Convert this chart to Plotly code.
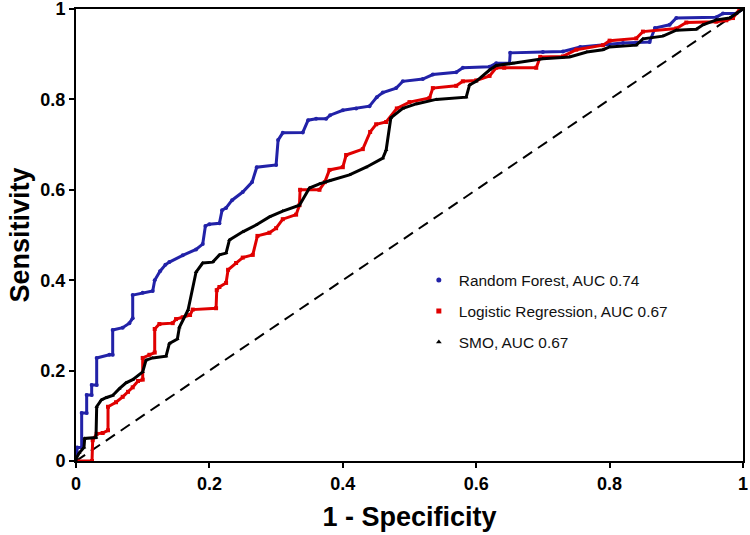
import plotly.graph_objects as go

# Random Forest ROC (1 - specificity, sensitivity)
rf_fpr = [0, 0.002, 0.0085, 0.0085, 0.016, 0.016, 0.0235, 0.0235, 0.031, 0.031, 0.05, 0.055, 0.055,
          0.07, 0.08, 0.085, 0.085, 0.10, 0.115, 0.118, 0.126, 0.134, 0.14, 0.16, 0.18, 0.19, 0.194,
          0.2, 0.215, 0.219, 0.225, 0.234, 0.25, 0.264, 0.271, 0.3, 0.303, 0.31, 0.34, 0.348, 0.36,
          0.375, 0.381, 0.4, 0.42, 0.44, 0.451, 0.46, 0.48, 0.49, 0.52, 0.535, 0.57, 0.58, 0.62, 0.63,
          0.65, 0.651, 0.7, 0.73, 0.756, 0.8, 0.82, 0.86, 0.868, 0.89, 0.9, 0.96, 0.97, 0.99, 1.0]
rf_tpr = [0, 0.03, 0.03, 0.106, 0.106, 0.146, 0.146, 0.168, 0.168, 0.228, 0.235, 0.235, 0.29,
          0.295, 0.305, 0.316, 0.367, 0.372, 0.376, 0.40, 0.42, 0.434, 0.44, 0.455, 0.468, 0.48, 0.52,
          0.524, 0.526, 0.555, 0.56, 0.577, 0.595, 0.617, 0.65, 0.655, 0.71, 0.726, 0.727, 0.754, 0.757,
          0.757, 0.765, 0.776, 0.78, 0.785, 0.805, 0.815, 0.825, 0.84, 0.845, 0.855, 0.86, 0.87, 0.872, 0.88,
          0.88, 0.903, 0.905, 0.906, 0.916, 0.922, 0.925, 0.927, 0.958, 0.965, 0.98, 0.982, 0.99, 0.99, 1.0]

# Logistic Regression ROC
lr_fpr = [0, 0.024, 0.025, 0.031, 0.04, 0.048, 0.048, 0.06, 0.07, 0.078, 0.085, 0.093, 0.1, 0.1,
          0.11, 0.118, 0.118, 0.125, 0.145, 0.15, 0.16, 0.171, 0.175, 0.21, 0.211, 0.215, 0.225, 0.228,
          0.24, 0.25, 0.265, 0.272, 0.29, 0.3, 0.31, 0.33, 0.335, 0.336, 0.365, 0.373, 0.38, 0.4, 0.405,
          0.43, 0.441, 0.45, 0.465, 0.481, 0.5, 0.53, 0.535, 0.57, 0.58, 0.6, 0.62, 0.63, 0.642, 0.69,
          0.696, 0.73, 0.75, 0.79, 0.8, 0.84, 0.85, 0.9, 0.915, 0.96, 0.975, 0.985, 0.995, 1.0]
lr_tpr = [0, 0, 0.046, 0.06, 0.062, 0.068, 0.12, 0.13, 0.142, 0.153, 0.163, 0.177, 0.18, 0.228,
          0.235, 0.24, 0.292, 0.303, 0.305, 0.314, 0.318, 0.323, 0.335, 0.338, 0.378, 0.385, 0.394, 0.423,
          0.438, 0.45, 0.456, 0.498, 0.505, 0.515, 0.535, 0.545, 0.566, 0.6, 0.6, 0.617, 0.644, 0.65, 0.677,
          0.69, 0.728, 0.745, 0.75, 0.78, 0.794, 0.803, 0.825, 0.83, 0.84, 0.842, 0.852, 0.87, 0.87, 0.87,
          0.894, 0.895, 0.91, 0.92, 0.93, 0.935, 0.95, 0.957, 0.97, 0.972, 0.975, 0.98, 1.0, 1.0]

# SMO ROC
smo_fpr = [0, 0.0, 0.005, 0.012, 0.013, 0.03, 0.031, 0.038, 0.045, 0.055, 0.065, 0.075, 0.085, 0.1,
           0.105, 0.115, 0.135, 0.14, 0.152, 0.155, 0.168, 0.18, 0.19, 0.205, 0.215, 0.225, 0.23, 0.25,
           0.27, 0.29, 0.31, 0.335, 0.35, 0.365, 0.38, 0.41, 0.435, 0.46, 0.465, 0.472, 0.49, 0.51, 0.54,
           0.585, 0.59, 0.6, 0.62, 0.63, 0.655, 0.7, 0.74, 0.766, 0.79, 0.8, 0.84, 0.85, 0.88, 0.9, 0.93,
           0.94, 0.96, 0.98, 0.99, 1.0]
smo_tpr = [0, 0.005, 0.018, 0.03, 0.05, 0.052, 0.12, 0.135, 0.14, 0.145, 0.16, 0.173, 0.18, 0.197,
           0.223, 0.228, 0.232, 0.26, 0.27, 0.296, 0.334, 0.418, 0.438, 0.44, 0.456, 0.46, 0.489, 0.507,
           0.522, 0.54, 0.553, 0.566, 0.604, 0.613, 0.62, 0.633, 0.65, 0.67, 0.688, 0.759, 0.78, 0.79, 0.8,
           0.805, 0.832, 0.84, 0.865, 0.875, 0.88, 0.89, 0.894, 0.905, 0.91, 0.916, 0.92, 0.934, 0.94, 0.953,
           0.955, 0.965, 0.976, 0.98, 0.99, 1.0]

names = ["Random Forest, AUC 0.74", "Logistic Regression, AUC 0.67", "SMO, AUC 0.67"]
colors = ["#2222a8", "#e00000", "#000000"]
symbols = ["circle", "square", "triangle-up"]
series = [(rf_fpr, rf_tpr), (lr_fpr, lr_tpr), (smo_fpr, smo_tpr)]

tick_vals = [0, 0.2, 0.4, 0.6, 0.8, 1]
tick_text = ["0", "0.2", "0.4", "0.6", "0.8", "1"]

fig = go.Figure()

# chance diagonal
fig.add_trace(go.Scatter(x=[0, 1], y=[0, 1], mode="lines",
                         line=dict(color="black", width=2, dash="11px,7px"),
                         showlegend=False, hoverinfo="skip"))

for (fx, ty), nm, c, s in zip(series, names, colors, symbols):
    fig.add_trace(go.Scatter(x=fx, y=ty, mode="lines+markers", name=nm,
                             line=dict(color=c, width=3),
                             marker=dict(color=c, symbol=s, size=4),
                             showlegend=False))

for i, (nm, c, s) in enumerate(zip(names, colors, symbols)):
    fig.add_trace(go.Scatter(x=[None], y=[None], mode="markers", name=nm,
                             marker=dict(color=c, symbol=s, size=5),
                             legendgroup=f"g{i}", showlegend=True))

font_family = "Liberation Sans Narrow, Arial Narrow, Liberation Sans, Arial"
axis_common = dict(range=[0, 1], showgrid=False, zeroline=False, showline=True,
                   linecolor="black", linewidth=2, mirror=True, ticks="outside",
                   ticklen=5, tickwidth=2, tickcolor="black", automargin=False,
                   ticklabeloverflow="allow",
                   tickvals=tick_vals, ticktext=tick_text,
                   tickfont=dict(family=font_family, size=18, color="black", weight="bold"))

fig.update_xaxes(**axis_common,
                 title=dict(text="1 - Specificity", standoff=15,
                            font=dict(family=font_family, size=27, color="black", weight="bold")))
fig.update_yaxes(**axis_common,
                 title=dict(text="Sensitivity", standoff=3,
                            font=dict(family=font_family, size=27, color="black", weight="bold")))

fig.update_layout(
    width=750, height=535,
    margin=dict(l=76, r=7, t=9, b=74),
    plot_bgcolor="white", paper_bgcolor="white",
    legend=dict(x=0.514, y=0.437, xanchor="left", yanchor="top",
                bgcolor="rgba(0,0,0,0)", tracegroupgap=8,
                font=dict(family="Liberation Sans, Arial", size=15.4, color="#111111")),
)

fig.write_html("out.html", config={"displayModeBar": False},
               post_script="document.body.style.margin='0';")
